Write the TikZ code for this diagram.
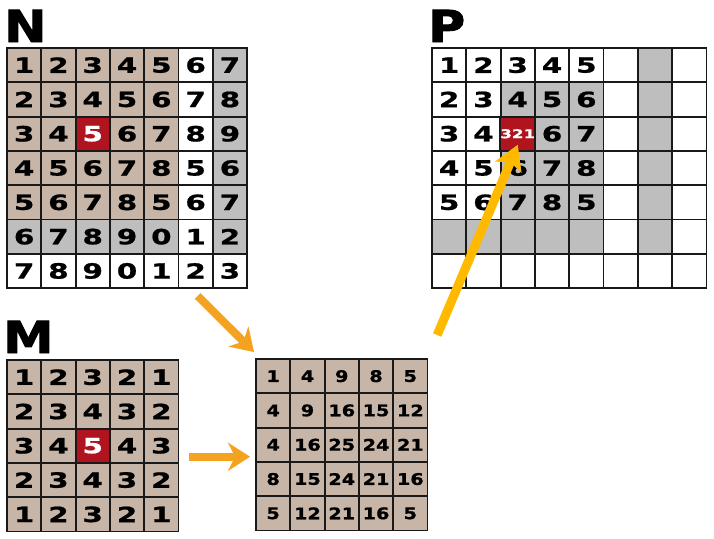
\documentclass[tikz,border=0pt]{standalone}
\usepackage{fontspec}
\setmainfont{DejaVu Sans}
\newfontfamily\cellfont{DejaVu Sans}[FakeStretch=1.4,FakeBold=1]
\newfontfamily\sumfont{DejaVu Sans}[FakeStretch=1.2,FakeBold=1]
\newfontfamily\lblfont{DejaVu Sans}[FakeStretch=1.15,FakeBold=2]
\usetikzlibrary{arrows.meta}
\definecolor{tanc}{HTML}{C7B5A8}
\definecolor{grayc}{HTML}{BEBEBE}
\definecolor{redc}{HTML}{B0141E}
\definecolor{orangec}{HTML}{F4A21F}
\definecolor{yellowc}{HTML}{FFBA00}
\tikzset{
  cell/.style={draw=black!90, line width=1.8pt, minimum size=34.3pt, inner sep=0pt,
    font=\cellfont\bfseries\fontsize{21}{21}\selectfont},
  tn/.style={fill=tanc},
  gy/.style={fill=grayc},
  wt/.style={fill=white},
  rd/.style={fill=redc, text=white},
  rdsm/.style={fill=redc, text=white, font=\cellfont\bfseries\fontsize{12}{12}\selectfont},
  sumcell/.style={font=\sumfont\bfseries\fontsize{16}{16}\selectfont},
  lbl/.style={anchor=base west, inner sep=0pt, font=\lblfont\bfseries\fontsize{44}{44}\selectfont},
  flow/.style={line width=8pt, draw=orangec, -{Stealth[length=22pt,width=28pt,inset=7pt]}},
  hit/.style={line width=9pt, draw=yellowc, -{Stealth[length=24pt,width=28pt,inset=5pt]}}
}
\begin{document}
\begin{tikzpicture}[x=1pt,y=-1pt]
\useasboundingbox (0,0) rectangle (714,538);
\node[lbl] (lblN) at (4,42) {N};
\node[lbl] (lblP) at (428,42) {P};
\node[lbl] (lblM) at (3,353) {M};
\foreach \row [count=\r] in {
  {1/tn,2/tn,3/tn,4/tn,5/tn,6/wt,7/gy},
  {2/tn,3/tn,4/tn,5/tn,6/tn,7/wt,8/gy},
  {3/tn,4/tn,5/rd,6/tn,7/tn,8/wt,9/gy},
  {4/tn,5/tn,6/tn,7/tn,8/tn,5/wt,6/gy},
  {5/tn,6/tn,7/tn,8/tn,5/tn,6/wt,7/gy},
  {6/gy,7/gy,8/gy,9/gy,0/gy,1/wt,2/gy},
  {7/wt,8/wt,9/wt,0/wt,1/wt,2/wt,3/wt}}
  \foreach \v/\f [count=\c] in \row
    \node[cell,\f] (N-\r-\c) at (7+34.3*\c-17.15, 48+34.3*\r-17.15) {\v};
\foreach \row [count=\r] in {
  {1/wt,2/wt,3/wt,4/wt,5/wt,{}/wt,{}/gy,{}/wt},
  {2/wt,3/wt,4/gy,5/gy,6/gy,{}/wt,{}/gy,{}/wt},
  {3/wt,4/wt,321/rdsm,6/gy,7/gy,{}/wt,{}/gy,{}/wt},
  {4/wt,5/wt,6/gy,7/gy,8/gy,{}/wt,{}/gy,{}/wt},
  {5/wt,6/wt,7/gy,8/gy,5/gy,{}/wt,{}/gy,{}/wt},
  {{}/gy,{}/gy,{}/gy,{}/gy,{}/gy,{}/wt,{}/gy,{}/wt},
  {{}/wt,{}/wt,{}/wt,{}/wt,{}/wt,{}/wt,{}/wt,{}/wt}}
  \foreach \v/\f [count=\c] in \row
    \node[cell,\f] (P-\r-\c) at (432+34.3*\c-17.15, 48+34.3*\r-17.15) {\v};
\foreach \row [count=\r] in {
  {1/tn,2/tn,3/tn,2/tn,1/tn},
  {2/tn,3/tn,4/tn,3/tn,2/tn},
  {3/tn,4/tn,5/rd,4/tn,3/tn},
  {2/tn,3/tn,4/tn,3/tn,2/tn},
  {1/tn,2/tn,3/tn,2/tn,1/tn}}
  \foreach \v/\f [count=\c] in \row
    \node[cell,\f] (M-\r-\c) at (7+34.3*\c-17.15, 360+34.3*\r-17.15) {\v};
\foreach \row [count=\r] in {
  {1,4,9,8,5},
  {4,9,16,15,12},
  {4,16,25,24,21},
  {8,15,24,21,16},
  {5,12,21,16,5}}
  \foreach \v [count=\c] in \row
    \node[cell,tn,sumcell] (R-\r-\c) at (256+34.3*\c-17.15, 359+34.3*\r-17.15) {\v};
\draw[flow] ([xshift=2pt,yshift=-7pt]N-7-6.south) -- ([xshift=-1pt,yshift=6pt]R-1-1.north west);
\draw[flow] ([xshift=10pt,yshift=-11pt]M-3-5.east) -- ([xshift=-5pt,yshift=-12pt]R-3-1.west);
\draw[hit] ([xshift=-12pt,yshift=-46pt]P-7-1.south) -- ([yshift=-11pt]P-3-3.center);
\end{tikzpicture}
\end{document}
